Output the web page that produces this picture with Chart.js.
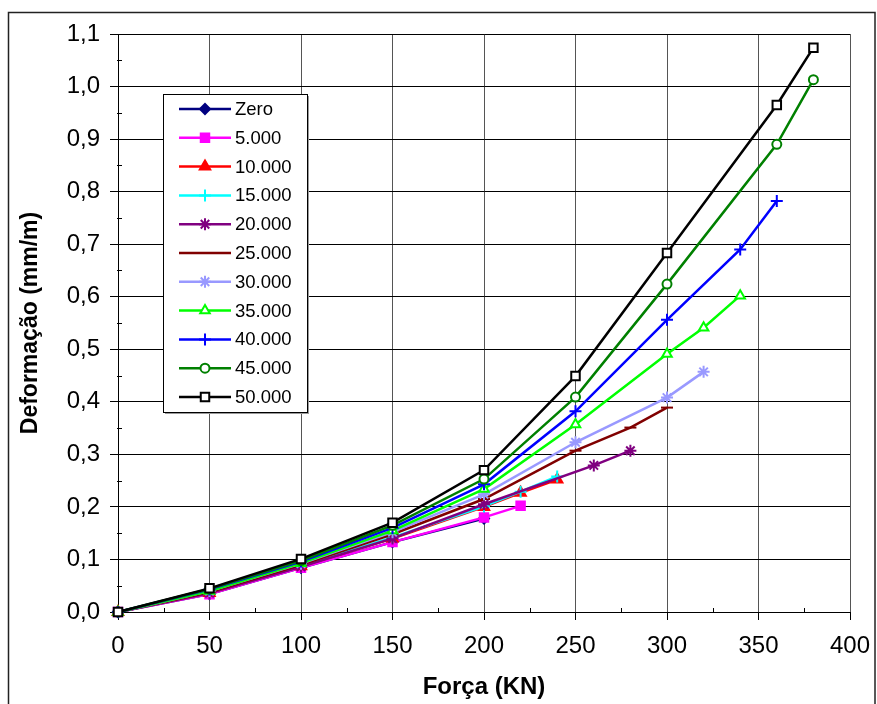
<!DOCTYPE html>
<html>
<head>
<meta charset="utf-8">
<script src="https://cdn.jsdelivr.net/npm/chart.js@4"></script>
<style>
  html, body { margin: 0; padding: 0; background: #fff; }
  #c { display: block; }
</style>
</head>
<body>
<canvas id="c" width="877" height="704"></canvas>
<script>
// ---- data ----
const seriesNames = ['Zero', '5.000', '10.000', '15.000', '20.000', '25.000', '30.000', '35.000', '40.000', '45.000', '50.000'];

const forceZero = [0, 50, 100, 150, 200];
const defZero   = [0, 0.034, 0.084, 0.133, 0.178];

const force5 = [0, 50, 100, 150, 200, 220];
const def5   = [0, 0.034, 0.084, 0.133, 0.180, 0.202];

const force10 = [0, 50, 100, 150, 200, 220, 240];
const def10   = [0, 0.036, 0.087, 0.140, 0.200, 0.227, 0.252];

const force15 = [0, 50, 100, 150, 200, 220, 240];
const def15   = [0, 0.037, 0.088, 0.142, 0.201, 0.229, 0.258];

const force20 = [0, 50, 100, 150, 200, 260, 280];
const def20   = [0, 0.036, 0.086, 0.140, 0.205, 0.279, 0.307];

const force25 = [0, 50, 100, 150, 200, 250, 280, 300];
const def25   = [0, 0.038, 0.090, 0.148, 0.215, 0.307, 0.351, 0.389];

const force30 = [0, 50, 100, 150, 200, 250, 300, 320];
const def30   = [0, 0.040, 0.092, 0.152, 0.224, 0.323, 0.408, 0.457];

const force35 = [0, 50, 100, 150, 200, 250, 300, 320, 340];
const def35   = [0, 0.040, 0.093, 0.155, 0.234, 0.357, 0.491, 0.541, 0.602];

const force40 = [0, 50, 100, 150, 200, 250, 300, 340, 360];
const def40   = [0, 0.043, 0.096, 0.160, 0.243, 0.382, 0.556, 0.690, 0.782];

const force45 = [0, 50, 100, 150, 200, 250, 300, 360, 380];
const def45   = [0, 0.044, 0.098, 0.165, 0.253, 0.409, 0.624, 0.890, 1.013];

const force50 = [0, 50, 100, 150, 200, 250, 300, 360, 380];
const def50   = [0, 0.045, 0.101, 0.170, 0.270, 0.449, 0.683, 0.965, 1.074];

const xTicks = [0, 50, 100, 150, 200, 250, 300, 350, 400];
const yTicks = [0, 0.1, 0.2, 0.3, 0.4, 0.5, 0.6, 0.7, 0.8, 0.9, 1.0, 1.1];

// ---- styles ----
const forces = [forceZero, force5, force10, force15, force20, force25, force30, force35, force40, force45, force50];
const defs   = [defZero, def5, def10, def15, def20, def25, def30, def35, def40, def45, def50];
const colors = ['#000080', '#FF00FF', '#FF0000', '#00FFFF', '#800080', '#800000', '#9999FF', '#00FF00', '#0000FF', '#008000', '#000000'];
const pStyles = ['rectRot', 'rect', 'triangle', 'cross', 'star', 'line', 'star', 'triangle', 'cross', 'circle', 'rect'];
const pRadius = [5, 6, 6, 6, 6, 6, 6, 5.5, 6, 4.5, 6];
const pFill   = [true, true, true, false, false, false, false, false, false, false, false];

const datasets = seriesNames.map((name, i) => ({
  label: name,
  data: forces[i].map((f, k) => ({ x: f, y: defs[i][k] })),
  borderColor: colors[i],
  backgroundColor: pFill[i] ? colors[i] : '#ffffff',
  pointBackgroundColor: pFill[i] ? colors[i] : '#ffffff',
  pointBorderColor: colors[i],
  pointStyle: pStyles[i],
  pointRadius: pRadius[i],
  pointBorderWidth: 2,
  borderWidth: 2.5,
  tension: 0,
  fill: false,
  clip: false,
  order: seriesNames.length - 1 - i
}));

const fmt = v => (Math.round(v * 10) / 10).toFixed(1).replace('.', ',');

function drawMarker(ctx, style, r, x, y, color, filled) {
  ctx.save();
  ctx.strokeStyle = color;
  ctx.fillStyle = filled ? color : '#ffffff';
  ctx.lineWidth = 2;
  if (Chart.helpers && Chart.helpers.drawPoint) {
    Chart.helpers.drawPoint(ctx, { pointStyle: style, radius: r, rotation: 0, borderWidth: 2 }, x, y);
  } else {
    ctx.beginPath(); ctx.arc(x, y, r, 0, Math.PI * 2); ctx.fill(); ctx.stroke();
  }
  ctx.restore();
}

const framePlugin = {
  id: 'frame',
  beforeDraw(chart) {
    const ctx = chart.ctx;
    ctx.save();
    ctx.fillStyle = '#ffffff';
    ctx.fillRect(0, 0, chart.width, chart.height);
    ctx.strokeStyle = '#222';
    ctx.lineWidth = 1.5;
    ctx.strokeRect(8.5, 12.5, 866.5, 720);
    ctx.restore();
  },
  afterDraw(chart) {
    const ctx = chart.ctx;
    const xs = chart.scales.x, ys = chart.scales.y;
    const ca = chart.chartArea;
    ctx.save();
    ctx.strokeStyle = '#000';
    ctx.lineWidth = 1;
    // minor ticks y
    for (let v = 0.05; v < 1.1; v += 0.1) {
      const py = Math.round(ys.getPixelForValue(v)) + 0.5;
      ctx.beginPath(); ctx.moveTo(ca.left - 1, py); ctx.lineTo(ca.left + 4, py); ctx.stroke();
    }
    // minor ticks x
    for (let v = 25; v < 400; v += 50) {
      const px = Math.round(xs.getPixelForValue(v)) + 0.5;
      ctx.beginPath(); ctx.moveTo(px, ca.bottom - 4); ctx.lineTo(px, ca.bottom + 1); ctx.stroke();
    }
    ctx.restore();
  },
  afterDatasetsDraw(chart) {
    const ctx = chart.ctx;
    const bx = 163, by = 94, bw = 144, bh = 318;
    ctx.save();
    ctx.fillStyle = '#999';
    ctx.fillRect(bx + 2, by + 2, bw, bh);
    ctx.fillStyle = '#ffffff';
    ctx.fillRect(bx, by, bw, bh);
    ctx.strokeStyle = '#000';
    ctx.lineWidth = 1;
    ctx.strokeRect(bx + 0.5, by + 0.5, bw, bh);
    ctx.font = '18.5px "Liberation Sans", Arial, sans-serif';
    ctx.textBaseline = 'middle';
    ctx.textAlign = 'left';
    seriesNames.forEach((name, i) => {
      const y = by + 15 + i * 28.8;
      ctx.strokeStyle = colors[i];
      ctx.lineWidth = 2.5;
      ctx.beginPath(); ctx.moveTo(179, y); ctx.lineTo(231, y); ctx.stroke();
      drawMarker(ctx, pStyles[i], pRadius[i], 205, y, colors[i], pFill[i]);
      ctx.fillStyle = '#000';
      ctx.fillText(name, 235, y + 1);
    });
    ctx.restore();
  }
};

new Chart(document.getElementById('c'), {
  type: 'line',
  data: { datasets },
  options: {
    responsive: false,
    animation: false,
    devicePixelRatio: 1,
    layout: { padding: { left: 0, right: 27, top: 34, bottom: 0 } },
    plugins: { legend: { display: false }, tooltip: { enabled: false } },
    scales: {
      x: {
        type: 'linear',
        min: 0, max: 400,
        afterBuildTicks: s => { s.ticks = xTicks.map(v => ({ value: v })); },
        afterFit: s => { s.height = 92; s.paddingLeft = 0; s.paddingRight = 0; },
        ticks: {
          color: '#000',
          padding: 12,
          maxRotation: 0,
          font: { family: '"Liberation Sans", Arial, sans-serif', size: 24 },
          callback: v => String(v)
        },
        grid: { color: '#555', lineWidth: 1, tickLength: 8, tickColor: '#000' },
        border: { color: '#000', width: 1 },
        title: {
          display: true, text: 'Força (KN)', color: '#000',
          font: { family: '"Liberation Sans", Arial, sans-serif', size: 24, weight: 'bold' },
          padding: { top: 0, bottom: 2 }
        }
      },
      y: {
        type: 'linear',
        min: 0, max: 1.1,
        afterBuildTicks: s => { s.ticks = yTicks.map(v => ({ value: v })); },
        afterFit: s => { s.width = 118; s.paddingTop = 0; s.paddingBottom = 0; },
        ticks: {
          color: '#000',
          padding: 10,
          font: { family: '"Liberation Sans", Arial, sans-serif', size: 24 },
          callback: v => fmt(v)
        },
        grid: { color: '#000', lineWidth: 1, tickLength: 8, tickColor: '#000' },
        border: { color: '#000', width: 1 },
        title: {
          display: true, text: 'Deformação (mm/m)', color: '#000',
          font: { family: '"Liberation Sans", Arial, sans-serif', size: 23, weight: 'bold' },
          padding: { top: 17, bottom: 0 }
        }
      }
    }
  },
  plugins: [framePlugin]
});
</script>
</body>
</html>
